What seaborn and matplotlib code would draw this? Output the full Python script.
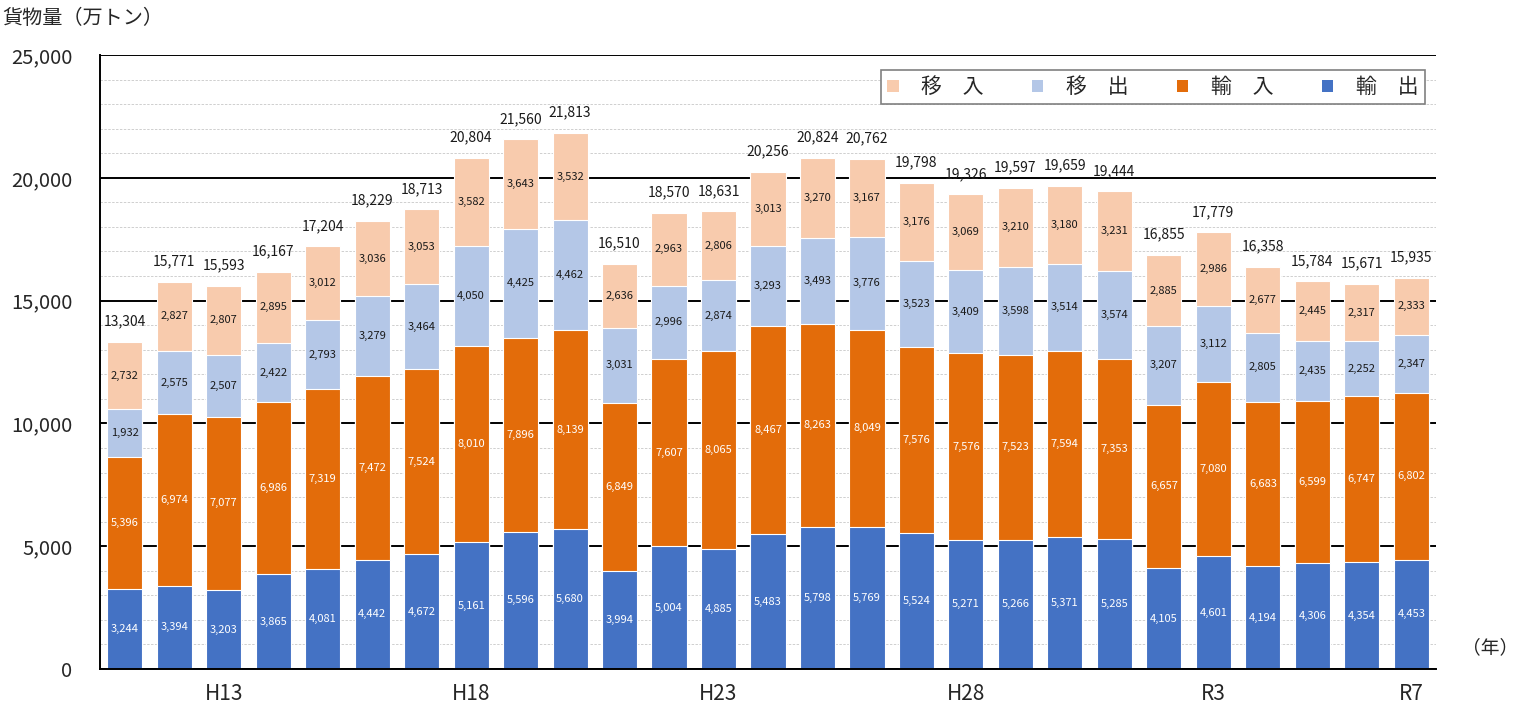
import matplotlib
matplotlib.use("Agg")
import matplotlib.pyplot as plt
import matplotlib.patches as patches
import numpy as np
import pandas as pd
import seaborn as sns

sns.set_style("white")
plt.rcParams["font.family"] = ["Noto Sans CJK JP", "DejaVu Sans"]

# 年（H11〜R7）
years = ["H11", "H12", "H13", "H14", "H15", "H16", "H17", "H18", "H19", "H20",
         "H21", "H22", "H23", "H24", "H25", "H26", "H27", "H28", "H29", "H30",
         "R1", "R2", "R3", "R4", "R5", "R6", "R7"]
tick_years = ["H13", "H18", "H23", "H28", "R3", "R7"]

# 貨物量（万トン）
export_ = [3244, 3394, 3203, 3865, 4081, 4442, 4672, 5161, 5596, 5680, 3994, 5004, 4885, 5483,
           5798, 5769, 5524, 5271, 5266, 5371, 5285, 4105, 4601, 4194, 4306, 4354, 4453]
import_ = [5396, 6974, 7077, 6986, 7319, 7472, 7524, 8010, 7896, 8139, 6849, 7607, 8065, 8467,
           8263, 8049, 7576, 7576, 7523, 7594, 7353, 6657, 7080, 6683, 6599, 6747, 6802]
out_dom = [1932, 2575, 2507, 2422, 2793, 3279, 3464, 4050, 4425, 4462, 3031, 2996, 2874, 3293,
           3493, 3776, 3523, 3409, 3598, 3514, 3574, 3207, 3112, 2805, 2435, 2252, 2347]
in_dom = [2732, 2827, 2807, 2895, 3012, 3036, 3053, 3582, 3643, 3532, 2636, 2963, 2806, 3013,
          3270, 3167, 3176, 3069, 3210, 3180, 3231, 2885, 2986, 2677, 2445, 2317, 2333]
# 合計（表示値、端数処理のため内訳の和と1ずれる年あり）
totals = [13304, 15771, 15593, 16167, 17204, 18229, 18713, 20804, 21560, 21813, 16510, 18570,
          18631, 20256, 20824, 20762, 19798, 19326, 19597, 19659, 19444, 16855, 17779, 16358,
          15784, 15671, 15935]

series = ["輸出", "輸入", "移出", "移入"]
colors = {"輸出": "#4472C4", "輸入": "#E36C0A", "移出": "#B4C7E7", "移入": "#F8CBAD"}
text_colors = {"輸出": "white", "輸入": "white", "移出": "#1a1a1a", "移入": "#1a1a1a"}

df = pd.DataFrame({"年": years, "輸出": export_, "輸入": import_, "移出": out_dom, "移入": in_dom})
cum = df[series].cumsum(axis=1)

fig, ax = plt.subplots(figsize=(15.19, 7.11), dpi=100)
fig.subplots_adjust(left=100 / 1519, right=1436 / 1519, bottom=1 - 669 / 711, top=1 - 55 / 711)

# 積み上げ：上の系列から重ねて描く
for s in reversed(series):
    sns.barplot(x=df["年"], y=cum[s], color=colors[s], width=0.71, ax=ax,
                edgecolor="white", linewidth=0.8, saturation=1, zorder=3)

x = np.arange(len(years))
for s in series:
    mids = cum[s] - df[s] / 2
    for xi, m, v in zip(x, mids, df[s]):
        ax.text(xi, m, f"{v:,}", ha="center", va="center", fontsize=8,
                color=text_colors[s], zorder=5)
for xi, top, t in zip(x, cum["移入"], totals):
    ax.text(xi, top + 550, f"{t:,}", ha="center", va="bottom", fontsize=10,
            color="#1a1a1a", zorder=5)

ax.set_xlim(-0.5, len(years) - 0.5)
ax.set_ylim(0, 25000)
ax.set_xlabel("")
ax.set_ylabel("")

ax.set_yticks(np.arange(0, 25001, 5000))
ax.set_yticklabels([f"{v:,}" for v in range(0, 25001, 5000)])
ax.set_yticks(np.arange(0, 25001, 1000), minor=True)
ax.grid(axis="y", which="major", color="black", linewidth=1.4, zorder=1)
ax.grid(axis="y", which="minor", color="#CFCFCF", linewidth=0.7, linestyle=(0, (2.5, 1.5)), zorder=1)
ax.tick_params(axis="y", which="major", length=6, width=1.2, labelsize=14.5, pad=14)
ax.tick_params(axis="y", which="minor", length=0)

bounds = np.arange(-0.5, len(years))
ax.set_xticks(bounds, labels=[""] * len(bounds))
ax.set_xticks([years.index(t) for t in tick_years], labels=tick_years, minor=True)
ax.tick_params(axis="x", which="major", length=6, width=1.2, direction="out")
ax.tick_params(axis="x", which="minor", length=0, labelsize=15, pad=10)

for side in ["top", "right"]:
    ax.spines[side].set_visible(False)
for side in ["left", "bottom"]:
    ax.spines[side].set_color("black")
    ax.spines[side].set_linewidth(1.4)
    ax.spines[side].set_zorder(6)

handles = [patches.Patch(facecolor=colors[s], edgecolor="none") for s in reversed(series)]
labels = [s[0] + "　" + s[1] for s in reversed(series)]
leg = ax.legend(handles, labels, ncol=4, loc="upper right", bbox_to_anchor=(0.9918, 0.9756),
                fontsize=15, frameon=True, fancybox=False, edgecolor="#808080",
                handlelength=0.55, handleheight=0.55, handletextpad=1.1, columnspacing=2.3,
                borderpad=0.3, borderaxespad=0, framealpha=1)
leg.get_frame().set_linewidth(1.2)
leg.set_zorder(7)

fig.text(2 / 1519, 1 - 18 / 711, "貨物量（万トン）", fontsize=14.5, va="center", ha="left")
fig.text(1518 / 1519, 1 - 648 / 711, "（年）", fontsize=13.5, va="center", ha="right")

fig.savefig("out.png", dpi=100)
